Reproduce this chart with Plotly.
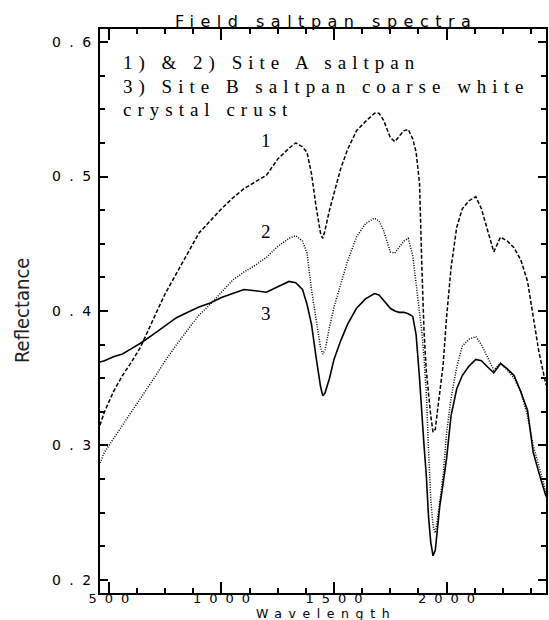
import plotly.graph_objects as go

# ---- data ----
wavelength = [460, 480, 520, 560, 600, 640, 700, 750, 800, 850, 900, 950, 1000, 1050,
              1100, 1150, 1200, 1250, 1300, 1330, 1360, 1380, 1400, 1420, 1440, 1450,
              1460, 1480, 1500, 1530, 1560, 1600, 1640, 1680, 1700, 1720, 1750, 1770,
              1790, 1810, 1830, 1850, 1865, 1880, 1890, 1900, 1910, 1920, 1930, 1940,
              1950, 1960, 1970, 1985, 2000, 2020, 2045, 2070, 2100, 2130, 2155, 2185,
              2210, 2240, 2270, 2300, 2330, 2360, 2385, 2410, 2442]

spectrum_1 = [0.315, 0.325, 0.340, 0.352, 0.362, 0.373, 0.395, 0.413, 0.428, 0.443, 0.458,
              0.467, 0.476, 0.484, 0.491, 0.496, 0.501, 0.513, 0.521, 0.525, 0.522, 0.518,
              0.502, 0.478, 0.458, 0.454, 0.460, 0.475, 0.487, 0.506, 0.520, 0.534, 0.541,
              0.547, 0.547, 0.542, 0.529, 0.526, 0.530, 0.534, 0.535, 0.528, 0.518, 0.495,
              0.435, 0.385, 0.356, 0.336, 0.322, 0.310, 0.312, 0.326, 0.340, 0.360, 0.395,
              0.432, 0.462, 0.476, 0.482, 0.485, 0.476, 0.459, 0.444, 0.455, 0.452, 0.447,
              0.438, 0.422, 0.396, 0.370, 0.345]

spectrum_2 = [0.287, 0.295, 0.305, 0.315, 0.325, 0.334, 0.350, 0.363, 0.375, 0.386, 0.397,
              0.405, 0.414, 0.423, 0.429, 0.434, 0.440, 0.448, 0.454, 0.456, 0.452, 0.443,
              0.416, 0.393, 0.373, 0.368, 0.371, 0.388, 0.403, 0.420, 0.437, 0.455, 0.465,
              0.469, 0.467, 0.460, 0.444, 0.443, 0.448, 0.452, 0.454, 0.441, 0.420, 0.398,
              0.385, 0.365, 0.340, 0.297, 0.260, 0.240, 0.235, 0.245, 0.257, 0.278, 0.309,
              0.335, 0.358, 0.374, 0.379, 0.381, 0.375, 0.365, 0.356, 0.361, 0.356, 0.350,
              0.340, 0.322, 0.300, 0.285, 0.265]

spectrum_3 = [0.362, 0.363, 0.366, 0.368, 0.372, 0.376, 0.383, 0.389, 0.395, 0.399, 0.403,
              0.406, 0.410, 0.413, 0.416, 0.415, 0.414, 0.418, 0.422, 0.421, 0.416, 0.405,
              0.390, 0.366, 0.344, 0.337, 0.339, 0.350, 0.364, 0.378, 0.390, 0.402, 0.409,
              0.413, 0.412, 0.408, 0.402, 0.400, 0.399, 0.399, 0.398, 0.396, 0.382, 0.350,
              0.321, 0.300, 0.278, 0.247, 0.228, 0.218, 0.222, 0.240, 0.255, 0.272, 0.290,
              0.322, 0.342, 0.352, 0.359, 0.364, 0.363, 0.358, 0.354, 0.361, 0.357, 0.352,
              0.340, 0.326, 0.295, 0.280, 0.262]

x_tick_vals = [500, 1000, 1500, 2000]
x_tick_text = ["500", "1000", "1500", "2000"]
y_tick_vals = [0.2, 0.3, 0.4, 0.5, 0.6]
y_tick_text = ["0.2", "0.3", "0.4", "0.5", "0.6"]

curve_labels = ["1", "2", "3"]
curve_label_x = [1199, 1199, 1199]
curve_label_y = [0.527, 0.459, 0.398]

note_lines = ["1) & 2) Site A saltpan",
              "3) Site B saltpan coarse white",
              "crystal crust"]

title_text = "Field saltpan spectra"
x_title = "Wavelength"
y_title = "Reflectance"

# ---- figure ----
SANS = "DejaVu Sans"
SERIF = "Liberation Serif, Times New Roman, serif"


def spaced(s, ls):
    # letter spacing on every character except the last (no trailing gap)
    return '<span style="letter-spacing:%spx">%s</span>%s' % (ls, s[:-1], s[-1])


fig = go.Figure()
fig.add_trace(go.Scatter(x=wavelength, y=spectrum_1, mode="lines",
                         line=dict(color="black", width=1.5, dash="4px,2px"),
                         showlegend=False))
fig.add_trace(go.Scatter(x=wavelength, y=spectrum_2, mode="lines",
                         line=dict(color="black", width=1.5, dash="1px,1.5px"),
                         showlegend=False))
fig.add_trace(go.Scatter(x=wavelength, y=spectrum_3, mode="lines",
                         line=dict(color="black", width=1.6),
                         showlegend=False))

axis_common = dict(showline=True, linecolor="black", linewidth=2, mirror="ticks",
                   ticks="inside", tickcolor="black", tickwidth=1.5,
                   showgrid=False, zeroline=False)

fig.update_xaxes(range=[460.2, 2442], tickmode="array", tickvals=x_tick_vals,
                 ticktext=[spaced(t, 8) for t in x_tick_text], ticklen=11,
                 ticklabelstandoff=-8,
                 tickfont=dict(family=SANS, size=13, color="black"),
                 minor=dict(tickmode="linear", tick0=500, dtick=125, ticklen=5,
                            ticks="inside", tickcolor="black", tickwidth=1.5),
                 **axis_common)
fig.update_yaxes(range=[0.1903, 0.6097], tickmode="array", tickvals=y_tick_vals,
                 ticktext=[spaced(t, 8.5) for t in y_tick_text], ticklen=8,
                 ticklabelstandoff=4,
                 tickfont=dict(family=SANS, size=14, color="black"),
                 minor=dict(tickmode="linear", tick0=0.2, dtick=0.025, ticklen=5,
                            ticks="inside", tickcolor="black", tickwidth=1.5),
                 **axis_common)

annotations = []
# title
annotations.append(dict(text=spaced(title_text, 6.5), xref="paper", yref="paper",
                        x=0.5, y=1, xanchor="center", yanchor="bottom", yshift=-4,
                        showarrow=False, font=dict(family=SANS, size=16, color="black")))
# x title
annotations.append(dict(text=spaced(x_title, 6.6), xref="paper", yref="paper",
                        x=0.5, y=0, xanchor="center", yanchor="top", yshift=-11,
                        showarrow=False, font=dict(family=SANS, size=12.5, color="black")))
# y title
annotations.append(dict(text=y_title, xref="paper", yref="paper",
                        x=0, y=0.5, xanchor="center", yanchor="middle", xshift=-78,
                        textangle=-90, showarrow=False,
                        font=dict(family="Liberation Sans Narrow, DejaVu Sans Condensed, sans-serif",
                                  size=20, color="#222")))
# curve labels
for lab, lx, ly in zip(curve_labels, curve_label_x, curve_label_y):
    annotations.append(dict(text=lab, x=lx, y=ly, xref="x", yref="y", showarrow=False,
                            font=dict(family=SERIF, size=19, color="black")))
# note lines
note_y = [63, 87, 110]
for line, py in zip(note_lines, note_y):
    annotations.append(dict(text=spaced(line, 6), xref="paper", yref="paper",
                            x=(121 - 100) / 448, y=(593 - py) / 564,
                            xanchor="left", yanchor="middle", showarrow=False,
                            font=dict(family=SERIF, size=19, color="black")))

fig.update_layout(width=549, height=620, margin=dict(l=100, r=1, t=29, b=27),
                  paper_bgcolor="white", plot_bgcolor="white",
                  annotations=annotations)

fig.write_html("out.html")
